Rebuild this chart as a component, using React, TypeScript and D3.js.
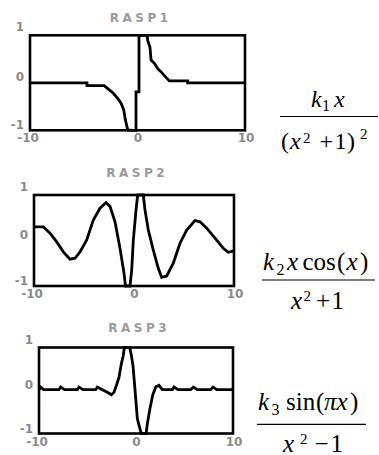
import React from "react";
import * as d3 from "d3";

// ---- data ----
const titles = ["RASP1", "RASP2", "RASP3"];
const yTickValues = [1, 0, -1];
const yTickLabels = ["1", "0", "-1"];
const xTickValues = [-10, 0, 10];
const xTickLabels = ["-10", "0", "10"];

const rasp1: [number, number][] = [
  [-10, 0], [-4.7, 0], [-4.7, -0.06], [-3.1, -0.06], [-2.62, -0.15], [-2.25, -0.22],
  [-1.84, -0.33], [-1.53, -0.43], [-1.28, -0.57], [-1.13, -0.78], [-0.91, -0.99],
  [-0.42, -1], [-0.14, -1], [-0.14, -0.19], [0.14, -0.19], [0.14, 1], [0.9, 1],
  [0.95, 0.89], [1.16, 0.75], [1.26, 0.48], [1.57, 0.41], [1.88, 0.3], [2.19, 0.23],
  [2.59, 0.13], [2.96, 0.04], [4.67, 0.04], [4.67, 0], [10, 0],
];

const rasp2: [number, number][] = [
  [-10, 0.3], [-9.07, 0.3], [-8.4, 0.16], [-7.73, -0.03], [-7.07, -0.25], [-6.4, -0.41],
  [-5.9, -0.39], [-5.4, -0.25], [-4.73, 0.01], [-4.07, 0.45], [-3.4, 0.71], [-2.8, 0.83],
  [-2.4, 0.75], [-1.9, 0.41], [-1.4, -0.17], [-1.0, -0.72], [-0.85, -1], [-0.4, -1],
  [-0.23, -0.65], [-0.07, 0], [0.2, 0.67], [0.37, 1], [0.93, 1], [1.1, 0.67],
  [1.43, 0.23], [1.93, -0.21], [2.43, -0.61], [2.77, -0.81], [3.27, -0.78], [3.93, -0.5],
  [4.6, -0.06], [5.27, 0.23], [6.1, 0.44], [6.6, 0.41], [7.27, 0.27], [8.1, 0.05],
  [8.93, -0.17], [9.43, -0.26], [10, -0.23],
];

const rasp3: [number, number][] = [
  [-10, 0.02], [-9.83, 0.08], [-9.55, 0.02], [-7.94, 0.02], [-7.77, 0.08], [-7.36, 0.02],
  [-6.05, 0.02], [-5.88, 0.08], [-5.46, 0.02], [-4.16, 0.02], [-3.99, 0.08], [-3.47, 0.02],
  [-2.96, -0.04], [-2.54, -0.1], [-2.27, -0.04], [-1.99, 0.14], [-1.75, 0.31], [-1.51, 0.62],
  [-1.31, 0.82], [-1.2, 1], [-0.65, 1], [-0.48, 0.82], [-0.31, 0.58], [-0.14, 0.12],
  [0, -0.27], [0.14, -0.66], [0.41, -0.89], [0.55, -1], [1.05, -1], [1.17, -0.77],
  [1.44, -0.42], [1.72, -0.11], [2.03, 0.08], [2.37, 0.12], [2.72, 0.02], [3.75, 0.02],
  [3.92, 0.08], [4.33, 0.02], [5.64, 0.02], [5.91, 0.08], [6.32, 0.02], [7.7, 0.02],
  [7.94, 0.08], [8.32, 0.02], [10, 0.02],
];

// ---- layout ----
const panels = [
  { title: titles[0], data: rasp1, x: 30, y: 35.3, w: 215, h: 95, titleY: 22 },
  { title: titles[1], data: rasp2, x: 34, y: 195, w: 200, h: 91, titleY: 177 },
  { title: titles[2], data: rasp3, x: 39, y: 347.5, w: 194, h: 86, titleY: 332 },
];

type Piece = { t: string; x: number; y: number; s: number; i?: boolean };
type Formula = { line: [number, number, number]; pieces: Piece[] };

const formulas: Formula[] = [
  {
    line: [280, 378, 116.5],
    pieces: [
      { t: "k", x: 311, y: 107, s: 24, i: true },
      { t: "1", x: 322, y: 110.5, s: 16 },
      { t: "x", x: 334, y: 107, s: 24, i: true },
      { t: "(", x: 281, y: 149, s: 24 },
      { t: "x", x: 290, y: 149, s: 24, i: true },
      { t: "2", x: 303, y: 142.5, s: 15 },
      { t: "+", x: 319.5, y: 149, s: 24 },
      { t: "1", x: 334.5, y: 149, s: 24 },
      { t: ")", x: 347, y: 149, s: 24 },
      { t: "2", x: 360, y: 138.5, s: 15 },
    ],
  },
  {
    line: [262, 375, 280],
    pieces: [
      { t: "k", x: 263, y: 270, s: 25, i: true },
      { t: "2", x: 276.5, y: 275, s: 16 },
      { t: "x", x: 287, y: 270, s: 25, i: true },
      { t: "cos", x: 302.5, y: 270, s: 25 },
      { t: "(", x: 337, y: 270, s: 25 },
      { t: "x", x: 346.5, y: 270, s: 25, i: true },
      { t: ")", x: 360, y: 270, s: 25 },
      { t: "x", x: 291, y: 309, s: 25, i: true },
      { t: "2", x: 303.5, y: 301, s: 15 },
      { t: "+", x: 316, y: 309, s: 25 },
      { t: "1", x: 331.5, y: 309, s: 25 },
    ],
  },
  {
    line: [257, 366, 424.3],
    pieces: [
      { t: "k", x: 258, y: 410, s: 25, i: true },
      { t: "3", x: 271.5, y: 415, s: 16 },
      { t: "sin", x: 286, y: 410, s: 25 },
      { t: "(", x: 316, y: 410, s: 25 },
      { t: "\u03c0", x: 324, y: 410, s: 25, i: true },
      { t: "x", x: 336.5, y: 410, s: 25, i: true },
      { t: ")", x: 350, y: 410, s: 25 },
      { t: "x", x: 283, y: 451.5, s: 25, i: true },
      { t: "2", x: 300, y: 443.5, s: 15 },
      { t: "\u2212", x: 314.5, y: 451.5, s: 25 },
      { t: "1", x: 330.5, y: 451.5, s: 25 },
    ],
  },
];

const tickFont = "'DejaVu Sans', sans-serif";
const serif = "'Liberation Serif', 'Times New Roman', serif";
const yLabelDy: Record<string, number> = { "1": -4, "0": -2, "-1": -1 };
const titleSpacing = 3.5;

function Panel({ p }: { p: (typeof panels)[number] }) {
  const xs = d3.scaleLinear().domain([-10, 10]).range([p.x, p.x + p.w]);
  const ys = d3.scaleLinear().domain([-1, 1]).range([p.y + p.h, p.y]);
  const line = d3
    .line<[number, number]>()
    .x((d) => xs(d[0]))
    .y((d) => ys(d[1]))
    .curve(d3.curveLinear);
  return (
    <g>
      <text
        x={xs(0) + 1.5 + titleSpacing / 2}
        y={p.titleY}
        textAnchor="middle"
        style={{ fontFamily: tickFont }}
        fontSize={12}
        fontWeight="bold"
        letterSpacing={titleSpacing}
        fill="#9a9a9a"
      >
        {p.title}
      </text>
      <rect x={p.x} y={p.y} width={p.w} height={p.h} fill="none" stroke="#000" strokeWidth={2.6} />
      <path d={line(p.data) || ""} fill="none" stroke="#000" strokeWidth={2.8} strokeLinejoin="miter" />
      {yTickValues.map((v, k) => (
        <text
          key={"y" + k}
          x={p.x - 6}
          y={ys(v) + yLabelDy[yTickLabels[k]]}
          textAnchor="end"
          style={{ fontFamily: tickFont }}
          fontSize={12}
          fontWeight="bold"
          fill="#8a8a8a"
        >
          {yTickLabels[k]}
        </text>
      ))}
      {xTickValues.map((v, k) => (
        <text
          key={"x" + k}
          x={xs(v) + (v < 0 ? -2 : v > 0 ? 1 : 0.5)}
          y={p.y + p.h + 12}
          textAnchor="middle"
          style={{ fontFamily: tickFont }}
          fontSize={12}
          fontWeight="bold"
          fill="#8a8a8a"
        >
          {xTickLabels[k]}
        </text>
      ))}
    </g>
  );
}

export default function App() {
  return (
    <svg
      width={379}
      height={455}
      style={{ position: "absolute", left: 0, top: 0, background: "#fff" }}
    >
      <rect x={0} y={0} width={379} height={455} fill="#fff" />
      {panels.map((p, k) => (
        <Panel key={k} p={p} />
      ))}
      {formulas.map((f, k) => (
        <g key={"f" + k}>
          <line x1={f.line[0]} x2={f.line[1]} y1={f.line[2]} y2={f.line[2]} stroke="#000" strokeWidth={1.2} />
          {f.pieces.map((pc, j) => (
            <text
              key={j}
              x={pc.x}
              y={pc.y}
              style={{ fontFamily: serif, fontStyle: pc.i ? "italic" : "normal" }}
              fontSize={pc.s}
              fill="#000"
            >
              {pc.t}
            </text>
          ))}
        </g>
      ))}
    </svg>
  );
}
